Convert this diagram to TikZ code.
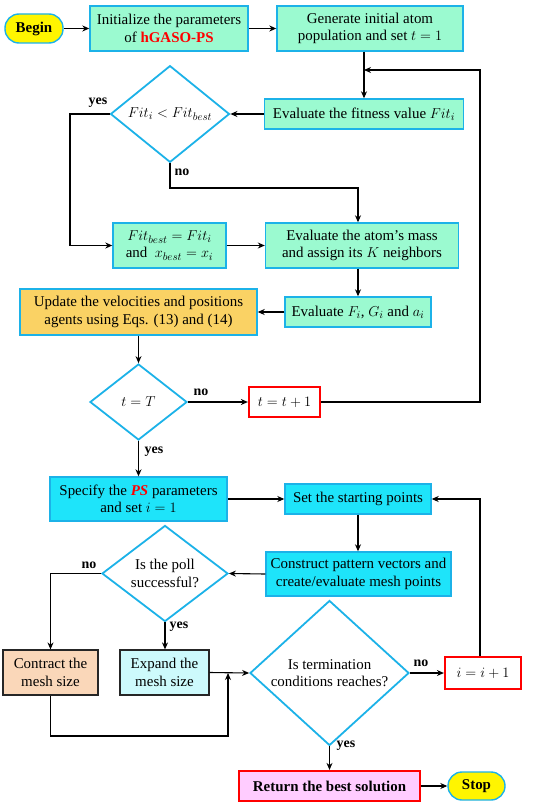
\documentclass[tikz,border=0pt]{standalone}
\usepackage{fontspec}
\setmainfont{Liberation Serif}
\usetikzlibrary{shapes.geometric,arrows.meta,calc}
\definecolor{mint}{RGB}{155,250,208}
\definecolor{bordblue}{RGB}{28,178,232}
\definecolor{cyanfill}{RGB}{30,228,250}
\definecolor{orangefill}{RGB}{250,210,100}
\definecolor{peach}{RGB}{250,215,185}
\definecolor{lightcyan}{RGB}{205,250,252}
\definecolor{pinkfill}{RGB}{255,204,255}
\definecolor{yell}{RGB}{255,245,0}
\begin{document}
\begin{tikzpicture}[x=1bp,y=1bp,
  font=\fontsize{15}{17.5}\selectfont,
  box/.style={draw=bordblue,line width=1.4bp,inner sep=1bp,align=center},
  gbox/.style={box,fill=mint},
  cbox/.style={box,fill=cyanfill},
  rbox/.style={draw=red,line width=2.2bp,fill=white,inner sep=1bp,align=center},
  term/.style={draw=bordblue,line width=1.4bp,fill=yell,rounded corners=14bp,font=\fontsize{15}{17.5}\selectfont\bfseries},
  dia/.style={diamond,draw=bordblue,line width=1.8bp,fill=white,inner sep=0pt,align=center},
  arr/.style={draw=black,line width=1.1bp,-{Stealth[length=7bp,width=6bp]}},
  lab/.style={font=\fontsize{14}{16}\selectfont\bfseries}
]
\useasboundingbox (0,0) rectangle (550,-807);

% nodes
\node[term,minimum width=58bp,minimum height=29bp] (begin) at (34,-28.5) {Begin};
\node[gbox,minimum width=158bp,minimum height=45bp] (init) at (169,-28.5) {Initialize the parameters\\of {\color{red}\bfseries hGASO-PS}};
\node[gbox,minimum width=186bp,minimum height=45bp] (gen) at (370,-28.5) {Generate initial atom\\population and set $t=1$};
\node[gbox,minimum width=199bp,minimum height=30bp] (evalfit) at (364,-114) {Evaluate the fitness value $Fit_i$};
\node[dia,minimum width=119bp,minimum height=91bp] (d1) at (170,-114) {$Fit_i<Fit_{best}$};
\node[gbox,minimum width=113bp,minimum height=45bp] (fitbest) at (169.5,-245.5) {$Fit_{best}=Fit_i$\\and\ \ $x_{best}=x_i$};
\node[gbox,minimum width=193bp,minimum height=45bp] (mass) at (362,-245.5) {Evaluate the atom’s mass\\and assign its $K$ neighbors};
\node[gbox,minimum width=146bp,minimum height=30bp] (evalF) at (358,-312) {Evaluate $F_i$, $G_i$ and $a_i$};
\node[box,fill=orangefill,minimum width=237bp,minimum height=46bp] (update) at (138.5,-312) {Update the velocities and positions\\agents using Eqs. (13) and (14)};
\node[dia,minimum width=97bp,minimum height=76bp] (d2) at (138.5,-402) {$t=T$};
\node[rbox,minimum width=71bp,minimum height=30bp] (tbox) at (284.5,-402) {$t=t+1$};
\node[cbox,minimum width=177bp,minimum height=44bp] (spec) at (138.5,-499) {Specify the {\color{red}\bfseries\itshape PS} parameters\\and set $i=1$};
\node[cbox,minimum width=146bp,minimum height=30bp] (start) at (358,-499) {Set the starting points};
\node[cbox,minimum width=185bp,minimum height=44bp] (construct) at (358.5,-574) {Construct pattern vectors and\\create/evaluate mesh points};
\node[dia,minimum width=126bp,minimum height=78bp] (d3) at (165,-573.5) {Is the poll\\successful?};
\node[box,draw=black!85,line width=1.2bp,fill=peach,minimum width=95bp,minimum height=45bp] (contract) at (50.5,-672.5) {Contract the\\mesh size};
\node[box,draw=black!85,line width=1.2bp,fill=lightcyan,minimum width=89bp,minimum height=45bp] (expand) at (164.5,-672.5) {Expand the\\mesh size};
\node[dia,minimum width=159bp,minimum height=122bp] (d4) at (329.5,-673) {Is termination\\conditions reaches?};
\node[rbox,minimum width=76bp,minimum height=32bp] (ibox) at (483,-673) {$i=i+1$};
\node[rbox,fill=pinkfill,minimum width=181bp,minimum height=30bp,font=\fontsize{15}{17.5}\selectfont\bfseries] (ret) at (329.5,-786) {Return the best solution};
\node[term,minimum width=57bp,minimum height=28bp] (stop) at (476.5,-786) {Stop};

% coordinates
\coordinate (fb) at (480,-70);
\coordinate (yj) at (70,-114);
\coordinate (nj) at (358,-188);
\coordinate (ib) at (480,-499);
\coordinate (cj) at (228,-736);

% connectors
\draw[arr] (begin.east) -- (init.west);
\draw[arr] (init.east) -- (gen.west);
\draw[arr] (evalfit.north |- gen.south) -- (evalfit.north);
\draw[arr] (evalfit.west) -- (d1.east);
\draw[arr] (d1.west) -- (yj) |- (fitbest.west);
\draw[arr] (d1.south) |- (nj) -- (nj |- mass.north);
\draw[arr] (fitbest.east) -- (mass.west);
\draw[arr] (evalF.north |- mass.south) -- (evalF.north);
\draw[arr] (evalF.west) -- (update.east);
\draw[arr] (update.south -| d2.north) -- (d2.north);
\draw[arr] (d2.east) -- (tbox.west);
\draw[arr] (tbox.east) -| (fb) -- (evalfit.north |- fb);
\draw[arr] (d2.south) -- (spec.north);
\draw[arr] (spec.east) -- (start.west);
\draw[arr] (start.south) -- (start.south |- construct.north);
\draw[arr] (construct.west) -- (d3.east);
\draw[arr] (d3.west) -| (contract.north);
\draw[arr] (d3.south) -- (d3.south |- expand.north);
\draw[arr] (expand.east) -- (d4.west);
\draw[arr] (contract.south) |- (cj) -- (cj |- d4.west);
\draw[arr] (d4.east) -- (ibox.west);
\draw[arr] (ib |- ibox.north) -- (ib) -- (start.east);
\draw[arr] (d4.south) -- (ret.north);
\draw[arr] (ret.east) -- (stop.west);

% labels
\node[lab] (l1) at (98,-103) {yes};
\node[lab] (l2) at (182,-172) {no};
\node[lab] (l3) at (201,-392) {no};
\node[lab] (l4) at (154,-452) {yes};
\node[lab] (l5) at (89,-565) {no};
\node[lab] (l6) at (179,-627) {yes};
\node[lab] (l7) at (421,-663) {no};
\node[lab] (l8) at (346,-746) {yes};
\end{tikzpicture}
\end{document}
